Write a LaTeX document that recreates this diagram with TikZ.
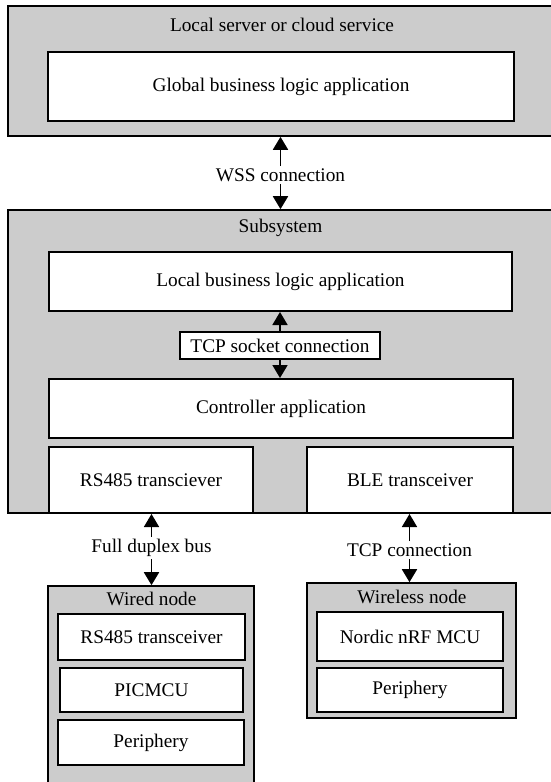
\documentclass[tikz,border=0pt]{standalone}
\usepackage{fontspec}
\setmainfont{Liberation Serif}
\usetikzlibrary{fit,arrows.meta}
\definecolor{boxgray}{HTML}{CCCCCC}
\begin{document}
\begin{tikzpicture}[x=0.5pt,y=-0.5pt,
  font=\fontsize{9.65}{11.5}\selectfont,
  grayb/.style={draw=black,line width=0.8pt,fill=boxgray,inner sep=0pt},
  whiteb/.style={draw=black,line width=1pt,fill=white,inner sep=0pt},
  lbl/.style={inner sep=1pt},
  conn/.style={line width=0.9pt,-{Triangle[width=7.5pt,length=6.5pt]}}]
\useasboundingbox (0,0) rectangle (551,782);
\clip (0,0) rectangle (551,782);
\fill[white] (0,0) rectangle (551,782);

% top: server / cloud
\node[grayb, fit={(8,6)(570,136)}] (top) {};
\node[lbl] (toptitle) at (282,25) {Local server or cloud service};
\node[whiteb, fit={(48,52)(514,121)}] (global) {};
\node[lbl] (globalt) at (global.center) {Global business logic application};

% subsystem
\node[grayb, fit={(8,210)(570,513)}] (sub) {};
\node[lbl] (subtitle) at (280.5,228) {Subsystem};
\node[whiteb, fit={(49,252)(512,311)}] (local) {};
\node[lbl] (localt) at (local.center) {Local business logic application};
\node[whiteb, fit={(49,379)(513,438)}] (ctrl) {};
\node[lbl] (ctrlt) at (ctrl.center) {Controller application};
\node[whiteb, fit={(49,447)(253,513)}] (rs) {};
\node[lbl] (rst) at (rs.center) {RS485 transciever};
\node[whiteb, fit={(307,447)(513,513)}] (ble) {};
\node[lbl] (blet) at (ble.center) {BLE transceiver};
\node[whiteb, fit={(180,332)(380,359)}] (tcp) {};
\node[lbl] (tcpt) at (tcp.center) {TCP socket connection};

% wired node
\node[grayb, fit={(48,586)(254,800)}] (wired) {};
\node[lbl] (wiredtitle) at (151.5,599) {Wired node};
\node[whiteb, fit={(58,614)(245,660)}] (wrs) {};
\node[lbl] (wrst) at (wrs.center) {RS485 transceiver};
\node[whiteb, fit={(60,668)(243,712)}] (pic) {};
\node[lbl] (pict) at (pic.center) {PICMCU};
\node[whiteb, fit={(58,720)(244,765)}] (wper) {};
\node[lbl] (wpert) at (wper.center) {Periphery};

% wireless node
\node[grayb, fit={(307,583)(516,718)}] (wless) {};
\node[lbl] (wlesstitle) at (412,597) {Wireless node};
\node[whiteb, fit={(317,612)(503,661)}] (nrf) {};
\node[lbl] (nrft) at (nrf.center) {Nordic nRF MCU};
\node[whiteb, fit={(317,668)(503,712)}] (lper) {};
\node[lbl] (lpert) at (lper.center) {Periphery};

% connection labels
\node[lbl] (wss) at (280.5,175) {WSS connection};
\node[lbl] (fdb) at (151.5,548) {Full duplex bus};
\node[lbl] (tcpc) at (409.5,550) {TCP connection};

% connectors
\draw[conn] (wss.north) -- (wss.north |- top.south);
\draw[conn] (wss.south) -- (wss.south |- sub.north);
\draw[conn] (tcp.north) -- (tcp.north |- local.south);
\draw[conn] (tcp.south) -- (tcp.south |- ctrl.north);
\draw[conn] (fdb.north) -- (fdb.north |- rs.south);
\draw[conn] (fdb.south) -- (fdb.south |- wired.north);
\draw[conn] (tcpc.north) -- (tcpc.north |- ble.south);
\draw[conn] (tcpc.south) -- (tcpc.south |- wless.north);
\end{tikzpicture}
\end{document}
